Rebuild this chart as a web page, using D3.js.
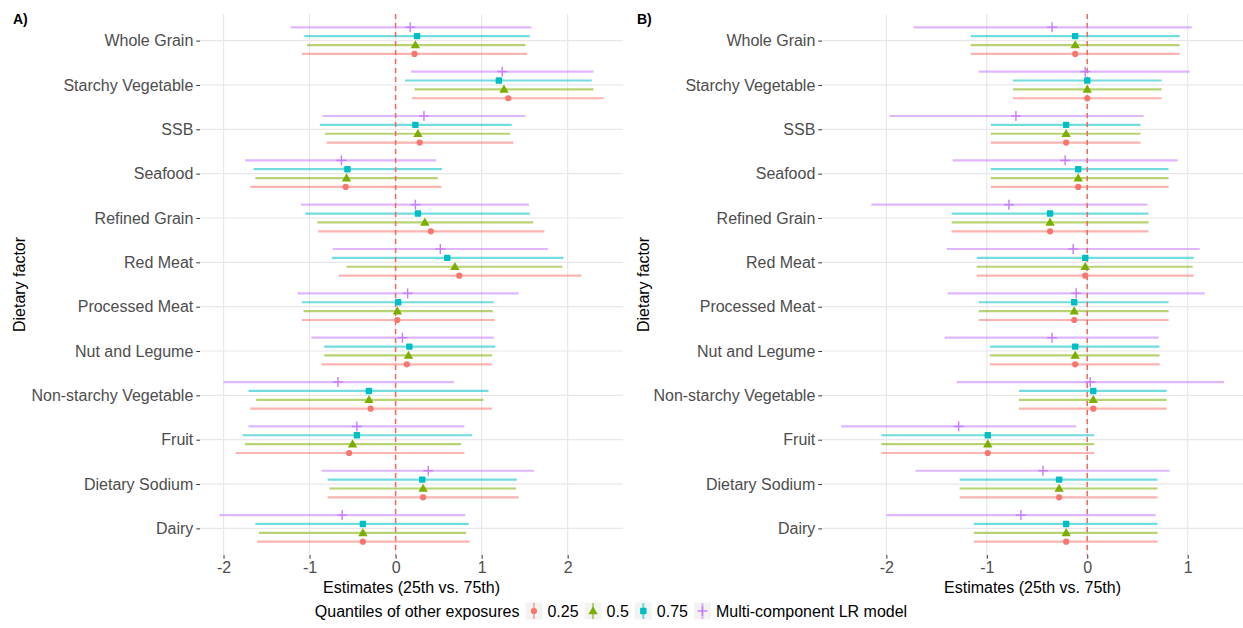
<!DOCTYPE html>
<html>
<head>
<meta charset="utf-8">
<script src="https://cdn.jsdelivr.net/npm/d3@7"></script>
<style>
  html, body { margin: 0; padding: 0; background: #fff; }
  svg { display: block; font-family: "Liberation Sans", Arial, Helvetica, sans-serif; }
</style>
</head>
<body>
<svg id="chart" width="1243" height="628"></svg>
<script>
// Dietary factors, listed top to bottom
const categories = [
  "Whole Grain", "Starchy Vegetable", "SSB", "Seafood", "Refined Grain", "Red Meat",
  "Processed Meat", "Nut and Legume", "Non-starchy Vegetable", "Fruit", "Dietary Sodium", "Dairy"
];

// Series (legend order) and their colours
const seriesKeys = ["0.25", "0.5", "0.75", "Multi-component LR model"];
const seriesColors = ["#F8766D", "#7CAE00", "#00BFC4", "#C77CFF"];
const legendTitle = "Quantiles of other exposures";

const xTicksA = [-2, -1, 0, 1, 2];
const xTicksB = [-2, -1, 0, 1];

// Panel A: [lower, estimate, upper] per dietary factor
const aQ25 = [
  [-1.09, 0.22, 1.53], [0.19, 1.31, 2.42], [-0.80, 0.28, 1.37], [-1.69, -0.58, 0.53],
  [-0.90, 0.41, 1.73], [-0.66, 0.74, 2.16], [-1.09, 0.02, 1.15], [-0.86, 0.13, 1.12],
  [-1.69, -0.29, 1.12], [-1.86, -0.54, 0.80], [-0.79, 0.32, 1.43], [-1.61, -0.38, 0.86]
];
const aQ50 = [
  [-1.03, 0.23, 1.51], [0.22, 1.26, 2.30], [-0.82, 0.26, 1.33], [-1.63, -0.57, 0.49],
  [-0.91, 0.34, 1.60], [-0.57, 0.69, 1.94], [-1.07, 0.02, 1.13], [-0.83, 0.15, 1.12],
  [-1.62, -0.31, 1.02], [-1.75, -0.50, 0.76], [-0.77, 0.32, 1.40], [-1.59, -0.38, 0.82]
];
const aQ75 = [
  [-1.06, 0.25, 1.56], [0.11, 1.20, 2.28], [-0.88, 0.23, 1.35], [-1.65, -0.56, 0.54],
  [-1.05, 0.26, 1.56], [-0.74, 0.60, 1.95], [-1.09, 0.03, 1.14], [-0.83, 0.16, 1.16],
  [-1.71, -0.31, 1.08], [-1.78, -0.45, 0.89], [-0.79, 0.31, 1.41], [-1.63, -0.38, 0.85]
];
const aLR = [
  [-1.22, 0.17, 1.58], [0.18, 1.24, 2.30], [-0.85, 0.33, 1.51], [-1.75, -0.63, 0.47],
  [-1.10, 0.23, 1.55], [-0.73, 0.52, 1.77], [-1.14, 0.14, 1.43], [-0.98, 0.08, 1.14],
  [-2.00, -0.67, 0.68], [-1.71, -0.45, 0.80], [-0.86, 0.38, 1.61], [-2.05, -0.62, 0.81]
];

// Panel B: [lower, estimate, upper] per dietary factor
const bQ25 = [
  [-1.16, -0.12, 0.92], [-0.74, 0.00, 0.74], [-0.96, -0.21, 0.53], [-0.96, -0.09, 0.81],
  [-1.35, -0.37, 0.61], [-1.10, -0.02, 1.06], [-1.08, -0.13, 0.81], [-0.97, -0.12, 0.72],
  [-0.68, 0.06, 0.79], [-2.05, -0.99, 0.07], [-1.27, -0.28, 0.70], [-1.13, -0.21, 0.70]
];
const bQ50 = [
  [-1.16, -0.12, 0.92], [-0.74, 0.00, 0.74], [-0.96, -0.21, 0.53], [-0.96, -0.09, 0.81],
  [-1.35, -0.37, 0.61], [-1.10, -0.02, 1.05], [-1.08, -0.13, 0.81], [-0.97, -0.12, 0.72],
  [-0.68, 0.06, 0.79], [-2.05, -0.99, 0.07], [-1.27, -0.28, 0.70], [-1.13, -0.21, 0.70]
];
const bQ75 = [
  [-1.16, -0.12, 0.92], [-0.74, 0.00, 0.74], [-0.96, -0.21, 0.53], [-0.96, -0.09, 0.81],
  [-1.35, -0.37, 0.61], [-1.10, -0.02, 1.06], [-1.08, -0.13, 0.81], [-0.97, -0.12, 0.72],
  [-0.68, 0.06, 0.79], [-2.05, -0.99, 0.07], [-1.27, -0.28, 0.70], [-1.13, -0.21, 0.70]
];
const bLR = [
  [-1.73, -0.35, 1.04], [-1.08, -0.02, 1.02], [-1.97, -0.71, 0.56], [-1.34, -0.22, 0.90],
  [-2.15, -0.78, 0.60], [-1.40, -0.14, 1.12], [-1.39, -0.11, 1.17], [-1.42, -0.35, 0.71],
  [-1.30, 0.03, 1.36], [-2.45, -1.28, -0.11], [-1.71, -0.44, 0.82], [-2.00, -0.66, 0.68]
];

const svg = d3.select("#chart");
const FONT = 16;
const TEXT_GREY = "#4d4d4d";
const TICK_LEN = 3.7;
const plotTop = 14, plotBottom = 555;

const panels = [
  { tag: "A)", offset: 0,   left: 200, right: 623, ticks: xTicksA, data: [aQ25, aQ50, aQ75, aLR] },
  { tag: "B)", offset: 624, left: 822, right: 1243, ticks: xTicksB, data: [bQ25, bQ50, bQ75, bLR] }
];

// Marker drawing per series: circle, triangle, square, plus
function drawMarker(g, i, cx, cy, color) {
  if (i === 0) {
    g.append("circle").attr("cx", cx).attr("cy", cy).attr("r", 3.1).attr("fill", color);
  } else if (i === 1) {
    g.append("path").attr("transform", `translate(${cx},${cy + 0.6})`)
      .attr("d", d3.symbol(d3.symbolTriangle, 38)()).attr("fill", color);
  } else if (i === 2) {
    g.append("rect").attr("x", cx - 3.2).attr("y", cy - 3.2).attr("width", 6.4).attr("height", 6.4)
      .attr("rx", 0.8).attr("fill", color);
  } else {
    g.append("line").attr("x1", cx).attr("x2", cx).attr("y1", cy - 5).attr("y2", cy + 5)
      .attr("stroke", color).attr("stroke-width", 1.4);
    g.append("line").attr("x1", cx - 5).attr("x2", cx + 5).attr("y1", cy).attr("y2", cy)
      .attr("stroke", color).attr("stroke-width", 1.4);
  }
}

panels.forEach(p => {
  const g = svg.append("g");

  // x extent from the data, expanded by 5% on each side
  const all = p.data.flat();
  const lo = d3.min(all, d => d[0]), hi = d3.max(all, d => d[2]);
  const pad = (hi - lo) * 0.05;
  const x = d3.scaleLinear().domain([lo - pad, hi + pad]).range([p.left, p.right]);

  const y = d3.scalePoint().domain(categories).range([plotTop, plotBottom]).padding(0.6);
  const step = y.step();
  // dodge: top to bottom LR, 0.75, 0.5, 0.25
  const dodge = d3.scaleBand().domain([3, 2, 1, 0]).range([-0.4 * step, 0.4 * step]);
  const rowY = (cat, si) => y(cat) + dodge(si) + dodge.bandwidth() / 2;

  // grid
  const grid = g.append("g");
  grid.selectAll("line.h").data(categories).join("line")
    .attr("x1", p.left).attr("x2", p.right)
    .attr("y1", d => y(d)).attr("y2", d => y(d))
    .attr("stroke", "#e8e8e8").attr("stroke-width", 1.2);
  grid.selectAll("line.v").data(p.ticks).join("line")
    .attr("x1", d => x(d)).attr("x2", d => x(d))
    .attr("y1", plotTop).attr("y2", plotBottom)
    .attr("stroke", "#e8e8e8").attr("stroke-width", 1.2);

  // interval lines
  p.data.forEach((rows, si) => {
    g.append("g").selectAll("line").data(rows).join("line")
      .attr("x1", d => x(d[0])).attr("x2", d => x(d[2]))
      .attr("y1", (d, i) => rowY(categories[i], si)).attr("y2", (d, i) => rowY(categories[i], si))
      .attr("stroke", seriesColors[si]).attr("stroke-opacity", 0.55).attr("stroke-width", 2.2);
  });

  // reference line at zero
  g.append("line").attr("x1", x(0)).attr("x2", x(0)).attr("y1", plotTop).attr("y2", plotBottom)
    .attr("stroke", "#f26a5b").attr("stroke-width", 1.5).attr("stroke-dasharray", "5,4");

  // estimates
  p.data.forEach((rows, si) => {
    const pg = g.append("g");
    rows.forEach((d, i) => drawMarker(pg, si, x(d[1]), rowY(categories[i], si), seriesColors[si]));
  });

  // y axis
  const yAxis = g.append("g").attr("transform", `translate(${p.left},0)`)
    .call(d3.axisLeft(y).tickSize(TICK_LEN).tickPadding(3));
  yAxis.select(".domain").remove();
  yAxis.selectAll(".tick line").attr("stroke", "#333").attr("stroke-width", 1);
  yAxis.selectAll(".tick text").attr("fill", TEXT_GREY).style("font-size", FONT + "px")
    .style("font-family", "inherit");

  // x axis
  const xAxis = g.append("g").attr("transform", `translate(0,${plotBottom})`)
    .call(d3.axisBottom(x).tickValues(p.ticks).tickFormat(d => String(d)).tickSize(TICK_LEN).tickPadding(3));
  xAxis.select(".domain").remove();
  xAxis.selectAll(".tick line").attr("stroke", "#333").attr("stroke-width", 1);
  xAxis.selectAll(".tick text").attr("fill", TEXT_GREY).style("font-size", FONT + "px")
    .style("font-family", "inherit");

  // axis titles
  g.append("text").attr("x", (p.left + p.right) / 2).attr("y", 593)
    .attr("text-anchor", "middle").style("font-size", FONT + "px").attr("fill", "#000")
    .text("Estimates (25th vs. 75th)");
  g.append("text").attr("transform", `translate(${p.offset + 25},${(plotTop + plotBottom) / 2}) rotate(-90)`)
    .attr("text-anchor", "middle").style("font-size", FONT + "px").attr("fill", "#000")
    .text("Dietary factor");

  // panel tag
  g.append("text").attr("x", p.offset + 13).attr("y", 24)
    .style("font-size", "14px").style("font-weight", "bold").attr("fill", "#000")
    .text(p.tag);
});

// legend
const legend = svg.append("g");
const legendY = 611;
let cursor = 0;
const title = legend.append("text").attr("x", 0).attr("y", legendY).attr("dy", "0.35em")
  .style("font-size", FONT + "px").attr("fill", "#000").text(legendTitle);
cursor += title.node().getComputedTextLength() + 6;
seriesKeys.forEach((k, si) => {
  const kg = legend.append("g");
  kg.append("rect").attr("x", cursor).attr("y", legendY - 8.5).attr("width", 17).attr("height", 17)
    .attr("fill", "#f3f3f3");
  const cx = cursor + 8.5;
  kg.append("line").attr("x1", cx).attr("x2", cx).attr("y1", legendY - 8).attr("y2", legendY + 8)
    .attr("stroke", seriesColors[si]).attr("stroke-opacity", 0.55).attr("stroke-width", 2);
  if (si === 3) {
    kg.append("line").attr("x1", cx - 5).attr("x2", cx + 5).attr("y1", legendY).attr("y2", legendY)
      .attr("stroke", seriesColors[si]).attr("stroke-width", 1.4);
    kg.append("line").attr("x1", cx).attr("x2", cx).attr("y1", legendY - 5).attr("y2", legendY + 5)
      .attr("stroke", seriesColors[si]).attr("stroke-width", 1.4);
  } else {
    drawMarker(kg, si, cx, legendY, seriesColors[si]);
  }
  cursor += 17 + 5;
  const t = kg.append("text").attr("x", cursor).attr("y", legendY).attr("dy", "0.35em")
    .style("font-size", FONT + "px").attr("fill", "#000").text(k);
  cursor += t.node().getComputedTextLength() + 6;
});
const legendWidth = cursor - 6;
legend.attr("transform", `translate(${611 - legendWidth / 2},0)`);
</script>
</body>
</html>
